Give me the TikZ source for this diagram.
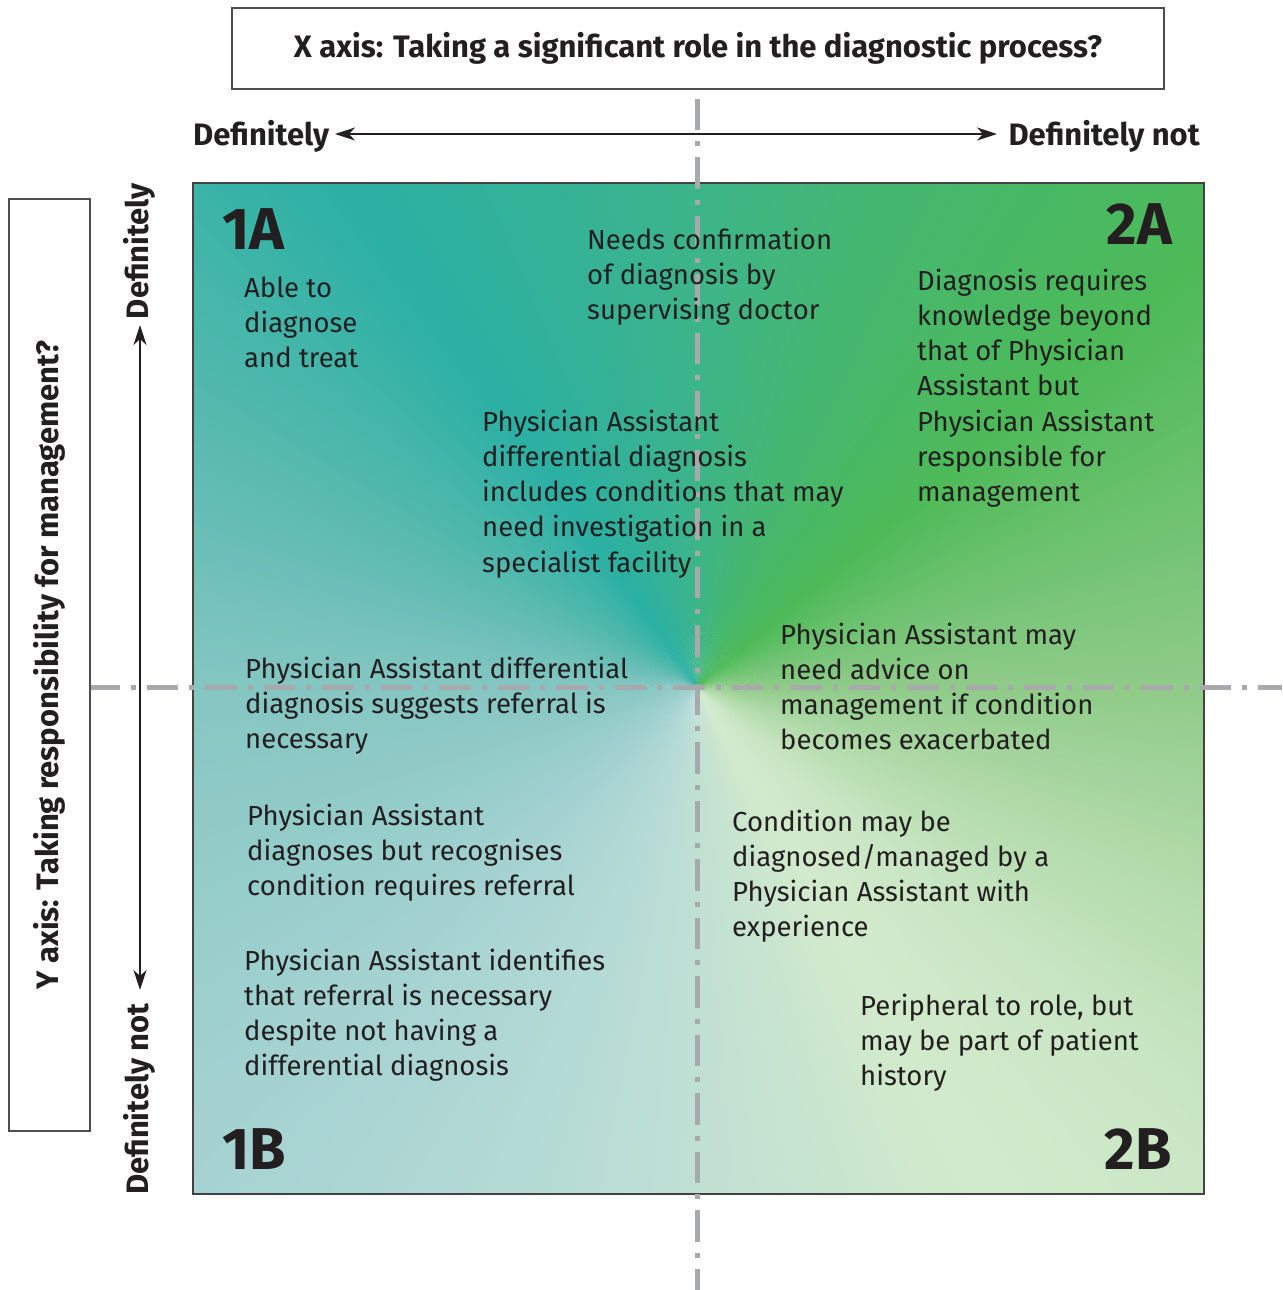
\documentclass[tikz,border=0pt]{standalone}
\usepackage{fontspec}
\setmainfont{Fira Sans}
\usetikzlibrary{arrows.meta}
\definecolor{txtc}{HTML}{231F20}
\definecolor{dashc}{HTML}{A7A9AC}
\definecolor{g0}{HTML}{8FCB89}
\definecolor{g1}{HTML}{4DBA58}
\definecolor{g2}{HTML}{46B770}
\definecolor{g3}{HTML}{3AB48E}
\definecolor{g4}{HTML}{2BB0A4}
\definecolor{g5}{HTML}{55B9AE}
\definecolor{g6}{HTML}{85C6C2}
\definecolor{g7}{HTML}{A6D3D2}
\definecolor{g8}{HTML}{BADDD6}
\definecolor{g9}{HTML}{D2EACC}
\definecolor{g10}{HTML}{C9E6C4}
\definecolor{g11}{HTML}{B0DAA8}
\begin{document}
\begin{tikzpicture}[x=1pt,y=-1pt,
  txt/.style={anchor=base west, align=left, inner sep=0pt, text=txtc,
    font=\fontsize{27.5}{35.3}\selectfont},
  big/.style={inner sep=0pt, text=txtc, font=\bfseries\fontsize{59}{59}\selectfont},
  axl/.style={inner sep=0pt, text=txtc, font=\bfseries\fontsize{31}{34}\selectfont},
  axbox/.style={draw=txtc!80, line width=1.2pt, inner sep=0pt, text=txtc,
    font=\bfseries\fontsize{31}{34}\selectfont},
  arr/.style={line width=1.3pt, draw=txtc, {Stealth[length=20pt,width=13pt,inset=6pt]}-{Stealth[length=20pt,width=13pt,inset=6pt]}},
  dashdot/.style={draw=dashc, line width=5pt, dash pattern=on 31.5pt off 11pt on 5pt off 11pt}
]
\useasboundingbox (0,0) rectangle (1282,1290);
% gradient square
\begin{scope}
\clip (193,183) rectangle (1204,1194);
\foreach \ta/\tb/\ca/\cb in {0/40/g0/g1, 40/68/g1/g2, 68/95/g2/g3, 95/125/g3/g4,
  125/150/g4/g5, 150/180/g5/g6, 180/225/g6/g7, 225/260/g7/g8, 260/300/g8/g9,
  300/320/g9/g10, 320/340/g10/g11, 340/360/g11/g0}{
  \pgfmathtruncatemacro\nn{\tb-\ta-1}
  \foreach \i in {0,...,\nn}{
    \pgfmathtruncatemacro\mixp{100*(\i+0.5)/(\tb-\ta)}
    \pgfmathsetmacro\angl{\ta+\i}
    \colorlet{wc}{\cb!\mixp!\ca}
    \fill[wc] (697,687) -- +(-\angl:1000) -- +(-\angl-1.4:1000) -- cycle;
  }
}
\end{scope}
\node[draw=txtc!85, line width=1.3pt, minimum width=1011pt, minimum height=1011pt, inner sep=0pt] (sq) at (698.5,688.5) {};
% dash-dot axes
\coordinate (vt) at (697,93);
\coordinate (vb) at (697,1290);
\coordinate (hl) at (90,687);
\coordinate (hr) at (1282,687);
\draw[dashdot, dash phase=53pt] (vt) -- (vb);
\draw[dashdot, dash phase=2pt] (hl) -- (hr);
% title boxes
\node[axbox, minimum width=932pt, minimum height=81pt] (xbox) at (698,48.5)
  {X axis: Taking a significant role in the diagnostic process?};
\node[axbox, rotate=90, minimum width=932pt, minimum height=81pt] (ybox) at (49.5,665)
  {Y axis: Taking responsibility for management?};
% axis arrows
\node[axl, anchor=base west] (dl) at (193,145) {Definitely};
\node[axl, anchor=base east] (dr) at (1200,145) {Definitely not};
\coordinate (al) at (335,134);
\coordinate (ar) at (997,134);
\draw[arr] (al) -- (ar);
\node[axl, rotate=90, anchor=base east] (du) at (148,183) {Definitely};
\node[axl, rotate=90, anchor=base west] (dd) at (148,1195) {Definitely not};
\coordinate (au) at (140,325);
\coordinate (ad) at (140,990);
\draw[arr] (au) -- (ad);
% quadrant labels
\node[big, anchor=base west] (q1a) at (222,249) {1A};
\node[big, anchor=base east] (q2a) at (1172,244) {2A};
\node[big, anchor=base west] (q1b) at (222,1169) {1B};
\node[big, anchor=base east] (q2b) at (1172,1169) {2B};
% texts (anchor = baseline of the last line)
\node[txt] (able) at (244,367.6) {Able to\\diagnose\\and treat};
\node[txt] (needs) at (587,319.6) {Needs confirmation\\of diagnosis by\\supervising doctor};
\node[txt] (beyond) at (917,501.8) {Diagnosis requires\\knowledge beyond\\that of Physician\\Assistant but\\Physician Assistant\\responsible for\\management};
\node[txt] (includes) at (482,572.2) {Physician Assistant\\differential diagnosis\\includes conditions that may\\need investigation in a\\specialist facility};
\node[txt] (advice) at (780,749.9) {Physician Assistant may\\need advice on\\management if condition\\becomes exacerbated};
\node[txt] (suggests) at (245,748.6) {Physician Assistant differential\\diagnosis suggests referral is\\necessary};
\node[txt] (recog) at (247,895.6) {Physician Assistant\\diagnoses but recognises\\condition requires referral};
\node[txt] (cond) at (732,936.9) {Condition may be\\diagnosed/managed by a\\Physician Assistant with\\experience};
\node[txt] (ident) at (244,1075.9) {Physician Assistant identifies\\that referral is necessary\\despite not having a\\differential diagnosis};
\node[txt] (periph) at (860,1085.6) {Peripheral to role, but\\may be part of patient\\history};
\end{tikzpicture}
\end{document}
